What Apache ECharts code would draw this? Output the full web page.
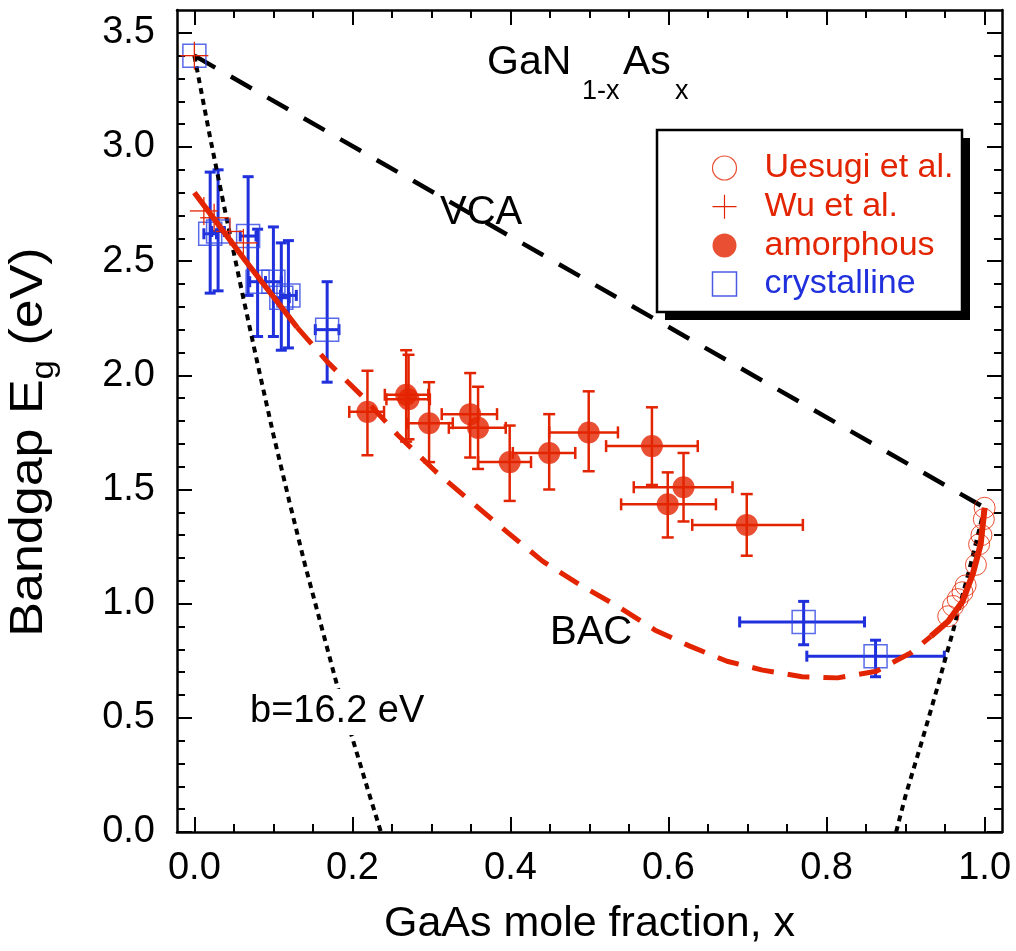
<!DOCTYPE html>
<html><head><meta charset="utf-8">
<script src="https://cdn.jsdelivr.net/npm/echarts@6/dist/echarts.min.js"></script>
<style>html,body{margin:0;padding:0;background:#fff}#c{width:1016px;height:951px}</style>
</head><body><div id="c"></div>
<script>
const FONT = '"Liberation Sans", Arial, sans-serif';
const RED = '#e32400';
const BLUE = '#1f30dc';

// tick positions / labels
const xLabelValues = [0, 0.2, 0.4, 0.6, 0.8, 1.0];
const xMinorTicks = [0.05,0.1,0.15,0.25,0.3,0.35,0.45,0.5,0.55,0.65,0.7,0.75,0.85,0.9,0.95];
const yLabelValues = [0, 0.5, 1.0, 1.5, 2.0, 2.5, 3.0, 3.5];
const yMinorTicks = [0.1,0.2,0.3,0.4,0.6,0.7,0.8,0.9,1.1,1.2,1.3,1.4,1.6,1.7,1.8,1.9,2.1,2.2,2.3,2.4,2.6,2.7,2.8,2.9,3.1,3.2,3.3,3.4];

// curves
const vcaLine = [[0, 3.40], [1.0, 1.42]];
const bowingLeft = [[0,3.40],[0.02,3.04],[0.04,2.70],[0.06,2.37],[0.08,2.05],[0.10,1.74],[0.12,1.45],[0.14,1.17],[0.16,0.91],[0.18,0.65],[0.20,0.41],[0.22,0.18],[0.236,0.0]];
const bowingRight = [[0.888,0.0],[0.90,0.16],[0.92,0.39],[0.94,0.63],[0.96,0.88],[0.98,1.14],[1.0,1.42]];
const bacStart = [[0,2.80],[0.065,2.50],[0.13,2.21]];
const bacMid = [[0.13,2.21],[0.168,2.06],[0.212,1.91],[0.257,1.74],[0.305,1.58],[0.349,1.45],[0.397,1.31],[0.441,1.185],[0.491,1.076],[0.535,0.99],[0.583,0.884],[0.627,0.814],[0.674,0.748],[0.719,0.709],[0.769,0.68],[0.814,0.675],[0.863,0.704],[0.908,0.787],[0.932,0.857]];
const bacEnd = [[0.932,0.857],[0.954,0.923],[0.972,1.01],[0.985,1.13],[0.995,1.26],[1.0,1.42]];

// data points
const uesugi = [[1.0,1.42],[0.999,1.37],[0.996,1.30],[0.993,1.26],[0.989,1.17],[0.976,1.08],[0.972,1.05],[0.966,1.02],[0.960,0.99],[0.954,0.945]];
const wu = [[0,3.40],[0.012,2.72],[0.025,2.69],[0.045,2.63],[0.062,2.58]];
// [x, y, xLow, xHigh, yLow, yHigh]
const amorphous = [
  [0.219,1.84,0.196,0.240,1.65,2.02],
  [0.268,1.915,0.241,0.296,1.71,2.11],
  [0.271,1.895,0.243,0.298,1.72,2.09],
  [0.297,1.79,0.269,0.327,1.62,1.97],
  [0.349,1.83,0.313,0.383,1.64,2.01],
  [0.359,1.77,0.322,0.394,1.59,1.95],
  [0.399,1.62,0.359,0.426,1.45,1.78],
  [0.449,1.66,0.403,0.482,1.50,1.83],
  [0.499,1.75,0.449,0.536,1.58,1.93],
  [0.579,1.69,0.521,0.637,1.52,1.86],
  [0.619,1.51,0.556,0.681,1.36,1.66],
  [0.599,1.435,0.540,0.660,1.29,1.575],
  [0.699,1.345,0.630,0.770,1.21,1.48]
];
const crystalline = [
  [0.000,3.40,0.000,0.000,3.40,3.40],
  [0.020,2.62,0.012,0.028,2.36,2.89],
  [0.030,2.63,0.022,0.038,2.37,2.90],
  [0.068,2.61,0.058,0.078,2.35,2.87],
  [0.080,2.41,0.070,0.090,2.17,2.64],
  [0.100,2.41,0.090,0.110,2.17,2.65],
  [0.110,2.34,0.100,0.120,2.11,2.58],
  [0.119,2.35,0.109,0.129,2.12,2.59],
  [0.168,2.20,0.153,0.183,1.97,2.41],
  [0.771,0.92,0.690,0.848,0.82,1.01],
  [0.862,0.77,0.775,0.949,0.68,0.84]
];

const XMIN = -0.022, XMAX = 1.022, YMIN = 0, YMAX = 3.6;
const axisLineStyle = {color:'#000', width:2.5};

function errorBars(color, width, cap) {
  return function (params, api) {
    const x = api.value(0), y = api.value(1);
    const xl = api.value(2), xh = api.value(3), yl = api.value(4), yh = api.value(5);
    const L = api.coord([xl, y]), R = api.coord([xh, y]);
    const B = api.coord([x, yl]), T = api.coord([x, yh]);
    const h = cap / 2;
    const ch = [];
    const st = () => ({stroke: color, lineWidth: width, fill: null});
    if (R[0] - L[0] > 1) {
      ch.push({type:'line', shape:{x1:L[0],y1:L[1],x2:R[0],y2:R[1]}, style:st()});
      ch.push({type:'line', shape:{x1:L[0],y1:L[1]-h,x2:L[0],y2:L[1]+h}, style:st()});
      ch.push({type:'line', shape:{x1:R[0],y1:R[1]-h,x2:R[0],y2:R[1]+h}, style:st()});
    }
    if (B[1] - T[1] > 1) {
      ch.push({type:'line', shape:{x1:B[0],y1:B[1],x2:T[0],y2:T[1]}, style:st()});
      ch.push({type:'line', shape:{x1:B[0]-h,y1:B[1],x2:B[0]+h,y2:B[1]}, style:st()});
      ch.push({type:'line', shape:{x1:T[0]-h,y1:T[1],x2:T[0]+h,y2:T[1]}, style:st()});
    }
    return {type:'group', children: ch};
  };
}

function xAxisDef(pos, ticks, len, withLabel, showLine) {
  return {
    type:'value', position:pos, min:XMIN, max:XMAX,
    axisLine:{show:showLine, onZero:false, lineStyle:axisLineStyle},
    axisTick:{show:true, inside:true, length:len, customValues:ticks, lineStyle:{color:'#000', width:2}},
    axisLabel:{show:withLabel, customValues:xLabelValues, formatter:v=>v.toFixed(1), fontSize:38, color:'#000', margin:18, fontFamily:FONT},
    splitLine:{show:false}
  };
}
function yAxisDef(pos, ticks, len, withLabel, showLine) {
  return {
    type:'value', position:pos, min:YMIN, max:YMAX,
    axisLine:{show:showLine, onZero:false, lineStyle:axisLineStyle},
    axisTick:{show:true, inside:true, length:len, customValues:ticks, lineStyle:{color:'#000', width:2}},
    axisLabel:{show:withLabel, customValues:yLabelValues, formatter:v=>v.toFixed(1), fontSize:38, color:'#000', margin:22, fontFamily:FONT},
    splitLine:{show:false}
  };
}

const xMain = xAxisDef('bottom', xLabelValues, 15, true, true);
xMain.name = 'GaAs mole fraction, x';
xMain.nameLocation = 'middle';
xMain.nameGap = 71;
xMain.nameTextStyle = {fontSize:43, color:'#000', fontFamily:FONT};

const lineSeries = (data, color, width, type, z) => ({
  type:'line', data, symbol:'none', silent:true, animation:false, z: z || 2,
  lineStyle:{color, width, type, cap:'butt'}
});

const option = {
  animation:false,
  backgroundColor:'#fff',
  textStyle:{fontFamily:FONT},
  grid:{left:177, right:14, top:10, bottom:118, show:false},
  xAxis:[
    xMain,
    xAxisDef('bottom', xMinorTicks, 8, false, false),
    xAxisDef('top', xLabelValues, 15, false, true),
    xAxisDef('top', xMinorTicks, 8, false, false)
  ],
  yAxis:[
    yAxisDef('left', yLabelValues, 15, true, true),
    yAxisDef('left', yMinorTicks, 8, false, false),
    yAxisDef('right', yLabelValues, 15, false, true),
    yAxisDef('right', yMinorTicks, 8, false, false)
  ],
  legend:{
    orient:'vertical', left:705, top:146, itemWidth:24, itemHeight:24, itemGap:4.7,
    selectedMode:false, z:20,
    textStyle:{fontSize:34, fontFamily:FONT, padding:[0,0,0,23]},
    data:[
      {name:'Uesugi et al.', icon:'circle', itemStyle:{color:'#fff', borderColor:RED, borderWidth:1.2}, textStyle:{color:RED}},
      {name:'Wu et al.', icon:'path://M10,0L10,20M0,10L20,10', itemStyle:{color:'none', borderColor:RED, borderWidth:1.2}, textStyle:{color:RED}},
      {name:'amorphous', icon:'circle', itemStyle:{color:RED, borderWidth:0}, textStyle:{color:RED}},
      {name:'crystalline', icon:'rect', itemStyle:{color:'#fff', borderColor:BLUE, borderWidth:1.5}, textStyle:{color:BLUE}}
    ]
  },
  graphic:[
    {type:'rect', z:10, shape:{x:665, y:138, width:305, height:182}, style:{fill:'#000'}},
    {type:'rect', z:11, shape:{x:657, y:130, width:305, height:182}, style:{fill:'#fff', stroke:'#000', lineWidth:2.5}},
    {type:'text', z:30, style:{text:'GaN', x:487, y:63, fontSize:41, fontFamily:FONT, fill:'#000', textVerticalAlign:'middle', verticalAlign:'middle'}},
    {type:'text', z:30, style:{text:'1-x', x:582, y:92, fontSize:27, fontFamily:FONT, fill:'#000', textVerticalAlign:'middle', verticalAlign:'middle'}},
    {type:'text', z:30, style:{text:'As', x:623, y:63, fontSize:41, fontFamily:FONT, fill:'#000', textVerticalAlign:'middle', verticalAlign:'middle'}},
    {type:'text', z:30, style:{text:'x', x:675, y:92, fontSize:27, fontFamily:FONT, fill:'#000', textVerticalAlign:'middle', verticalAlign:'middle'}},
    {type:'text', z:30, style:{text:'VCA', x:440, y:213, fontSize:40, fontFamily:FONT, fill:'#000', textVerticalAlign:'middle', verticalAlign:'middle'}},
    {type:'text', z:30, style:{text:'BAC', x:550, y:633, fontSize:40, fontFamily:FONT, fill:'#000', textVerticalAlign:'middle', verticalAlign:'middle'}},
    {type:'text', z:30, style:{text:'b=16.2 eV', x:248, y:712, fontSize:38, fontFamily:FONT, fill:'#000', textVerticalAlign:'middle', verticalAlign:'middle', backgroundColor:'#fff', padding:[4,2]}},
    {type:'text', z:30, x:29, y:442, rotation:Math.PI/2, scaleX:1.13,
      style:{text:'{m|Bandgap E}{s|g}{m| (eV)}', textAlign:'center', align:'center', textVerticalAlign:'middle', verticalAlign:'middle', fill:'#000', fontFamily:FONT,
        rich:{m:{fontSize:46, lineHeight:62, verticalAlign:'middle', fontFamily:FONT, fill:'#000'}, s:{fontSize:31, lineHeight:28, verticalAlign:'bottom', fontFamily:FONT, fill:'#000'}}}}
  ],
  series:[
    {name:'crystalline-err', type:'custom', renderItem:errorBars(BLUE, 3, 11), data:crystalline, silent:true, z:2},
    {name:'crystalline', type:'scatter', data:crystalline.map(d=>[d[0],d[1]]), symbol:'rect', symbolSize:23,
      itemStyle:{color:'rgba(255,255,255,0)', borderColor:'#3146e4', borderWidth:1.5}, z:2},
    lineSeries(vcaLine, '#000', 4.5, [24,18]),
    lineSeries(bowingLeft, '#000', 4, [6,5]),
    lineSeries(bowingRight, '#000', 4, [6,5]),
    {name:'Uesugi et al.', type:'scatter', data:uesugi, symbol:'circle', symbolSize:21,
      itemStyle:{color:'rgba(255,255,255,0)', borderColor:RED, borderWidth:1}, z:3},
    {name:'Wu et al.', type:'custom', data:wu, z:3, renderItem:function(p, api){
      const c = api.coord([api.value(0), api.value(1)]); const s = 14;
      return {type:'group', children:[
        {type:'line', shape:{x1:c[0]-s,y1:c[1],x2:c[0]+s,y2:c[1]}, style:{stroke:RED, lineWidth:1.3}},
        {type:'line', shape:{x1:c[0],y1:c[1]-s,x2:c[0],y2:c[1]+s}, style:{stroke:RED, lineWidth:1.3}}
      ]};
    }},
    lineSeries(bacStart, RED, 5.5, 'solid', 4),
    lineSeries(bacMid, RED, 5, [22,14], 4),
    lineSeries(bacEnd, RED, 6, 'solid', 4),
    {name:'amorphous-err', type:'custom', renderItem:errorBars(RED, 2.5, 12), data:amorphous, silent:true, z:4},
    {name:'amorphous', type:'scatter', data:amorphous.map(d=>[d[0],d[1]]), symbol:'circle', symbolSize:22,
      itemStyle:{color:RED, borderWidth:0}, z:4}
  ]
};

const chart = echarts.init(document.getElementById('c'), null, {renderer:'canvas'});
chart.setOption(option);
</script>
</body></html>
